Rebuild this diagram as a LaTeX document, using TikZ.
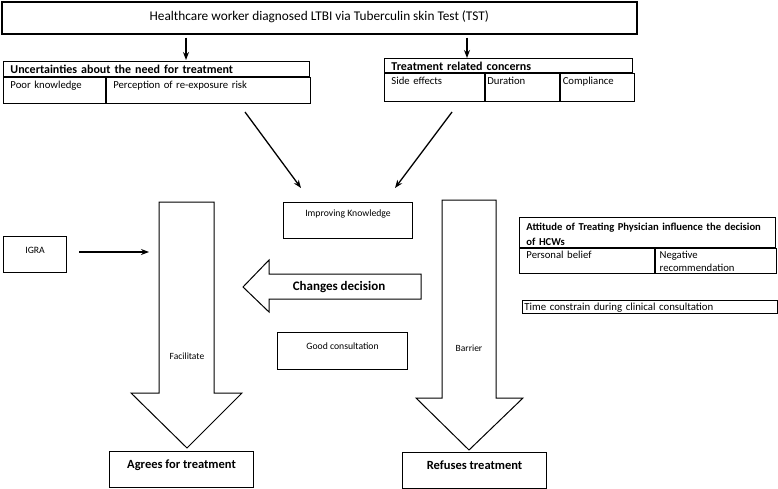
\documentclass[tikz,border=0pt]{standalone}
\usepackage{fontspec}
\setmainfont{Carlito}
\usepackage{tikz}
\usetikzlibrary{arrows.meta, calc, positioning}

\begin{document}
\begin{tikzpicture}[x=1pt, y=-1pt,
    box/.style={draw, line width=1.1pt, inner sep=0pt, anchor=north west, font=\fontsize{9.7}{11}\selectfont},
    bigbox/.style={box, font=\bfseries\fontsize{12.5}{15}\selectfont},
    cell/.style={draw, line width=0.9pt, inner ysep=0pt, inner xsep=7pt, anchor=north west, align=left, font=\fontsize{10.7}{13}\selectfont},
    headcell/.style={cell, font=\bfseries\fontsize{12}{14}\selectfont},
    arr/.style={-{Stealth[length=8pt,width=6pt]}, line width=1.3pt},
    blockarrow/.style={draw, line width=1pt, line join=miter}]

    \useasboundingbox (0,0) rectangle (778,489);

    % =================================================================
    % 1. HOP TREN CUNG VA HAI BANG
    % =================================================================
    \node[box, line width=1.6pt, minimum width=635pt, text height=18.5pt, text depth=13.5pt,
          font=\fontsize{13.3}{16}\selectfont] (hcw) at (1,1)
          {Healthcare worker diagnosed LTBI via Tuberculin skin Test (TST)};

    % Bang ben trai
    \node[headcell, text width=292pt, text height=12.5pt, text depth=2.5pt] (unc) at (3,61)
          {Uncertainties about the need for treatment};
    \node[cell, text width=88pt, text height=11pt, text depth=15pt] (unc-a) at (unc.south west) {Poor knowledge};
    \node[cell, text width=190pt, text height=11pt, text depth=15pt] (unc-b) at (unc-a.north east) {Perception of re-exposure risk};

    % Bang ben phai
    \node[headcell, text width=234pt, text height=12pt, text depth=2pt] (trc) at (384,58)
          {Treatment related concerns};
    \node[cell, text width=86pt, text height=11.5pt, text depth=16.5pt] (trc-a) at (trc.south west) {Side effects};
    \node[cell, inner xsep=2pt, text width=70pt, text height=11.5pt, text depth=16.5pt] (trc-b) at (trc-a.north east) {Duration};
    \node[cell, inner xsep=2.5pt, text width=69pt, text height=11.5pt, text depth=16.5pt] (trc-c) at (trc-b.north east) {Compliance};

    % Bang thai do bac si
    \node[cell, text width=242pt, text height=13pt, text depth=17pt, font=\bfseries\fontsize{10.6}{15}\selectfont] (att) at (519,217)
          {Attitude of Treating Physician influence the decision\\of HCWs};
    \node[cell, text width=121pt, text height=10pt, text depth=15pt] (att-a) at (att.south west) {Personal belief};
    \node[cell, inner xsep=4.3pt, text width=112.4pt, text height=10pt, text depth=15pt] (att-b) at (att-a.north east) {Negative\\recommendation};

    \node[cell, inner xsep=2pt, text width=251pt, text height=10.5pt, text depth=2.5pt,
          font=\fontsize{10.8}{12}\selectfont] (time) at (522,300) {Time constrain during clinical consultation};

    % =================================================================
    % 2. CAC HOP NHO
    % =================================================================
    \node[box, minimum width=63pt, text height=16.5pt, text depth=19.5pt] (igra) at (3,236) {IGRA};
    \node[box, minimum width=129pt, text height=14pt, text depth=22pt] (know) at (283,202) {Improving Knowledge};
    \node[box, minimum width=130pt, text height=17pt, text depth=20pt] (good) at (277,332) {Good consultation};
    \node[bigbox, minimum width=144pt, text height=17pt, text depth=19pt] (agree) at (109,451) {Agrees for treatment};
    \node[bigbox, minimum width=144pt, text height=17pt, text depth=19pt] (refuse) at (402,452) {Refuses treatment};

    % =================================================================
    % 3. MUI TEN KHOI
    % =================================================================
    \draw[blockarrow] (159,202) -- (214,202) -- (214,393) -- (242,393) -- (187,448)
        -- (131,393) -- (159,393) -- cycle;
    \draw[blockarrow] (442,200) -- (496,200) -- (496,398) -- (523,398) -- (469,450)
        -- (416,398) -- (442,398) -- cycle;
    \draw[blockarrow] (243,287) -- (269,260) -- (269,274) -- (421,274) -- (421,299)
        -- (269,299) -- (269,312) -- cycle;

    \node[font=\fontsize{9.5}{11}\selectfont] (fac-t) at (187,356) {Facilitate};
    \node[font=\fontsize{9.5}{11}\selectfont] (bar-t) at (469,348) {Barrier};
    \node[font=\bfseries\fontsize{13}{15}\selectfont] (chg-t) at (339,287) {Changes decision};

    % =================================================================
    % 4. MUI TEN NOI
    % =================================================================
    \coordinate (a1) at (186,60);
    \coordinate (a2) at (467,58);
    \coordinate (d1s) at (245,112);
    \coordinate (d1e) at (301,188);
    \coordinate (d2s) at (452,112);
    \coordinate (d2e) at (395,188);
    \coordinate (fac) at (149,252);

    \draw[arr, shorten <=3pt] (hcw.south -| a1) -- (a1);
    \draw[arr, shorten <=3pt] (hcw.south -| a2) -- (a2);
    \draw[arr] (d1s) -- (d1e);
    \draw[arr] (d2s) -- (d2e);
    \draw[arr] ([xshift=12pt]igra.east |- fac) -- (fac);

\end{tikzpicture}
\end{document}
